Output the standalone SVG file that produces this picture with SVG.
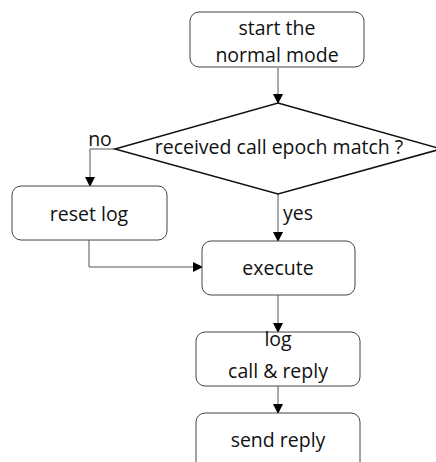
<svg xmlns="http://www.w3.org/2000/svg" width="436" height="462" viewBox="0 0 436 462">
<style>
.box{fill:#fff;stroke:#444;stroke-width:1}
.dia{fill:#fff;stroke:#111;stroke-width:1.5}
.t{font-family:"Open Sans","Liberation Sans",sans-serif;font-size:19.5px;fill:#111;text-anchor:middle}
.c{fill:none;stroke:#555;stroke-width:1}
</style>
<defs>
<marker id="ah" markerWidth="10" markerHeight="10" refX="9" refY="5" orient="auto" markerUnits="userSpaceOnUse">
<path d="M0,0 L10,5 L0,10 Z" fill="#000"/>
</marker>
</defs>
<rect width="436" height="462" fill="#fff"/>
<g id="connectors">
<path class="c" d="M278,68 V103" marker-end="url(#ah)"/>
<path class="c" d="M115,149 H90 V186" marker-end="url(#ah)"/>
<path class="c" d="M278,194 V241" marker-end="url(#ah)"/>
<path class="c" d="M89,240 V267 H202" marker-end="url(#ah)"/>
<path class="c" d="M278,295 V332" marker-end="url(#ah)"/>
<path class="c" d="M278,386 V413" marker-end="url(#ah)"/>
<text class="t" x="100" y="146">no</text>
<text class="t" x="283" y="220" style="text-anchor:start">yes</text>
</g>
<g id="start">
<rect class="box" x="190" y="12" width="174" height="55" rx="9"/>
<text class="t" x="277" y="35">start the</text>
<text class="t" x="277" y="62">normal mode</text>
</g>
<g id="decision">
<polygon class="dia" points="278,103 441,149 278,194 115,149"/>
<text class="t" x="279" y="154">received call epoch match ?</text>
</g>
<g id="reset">
<rect class="box" x="12" y="186" width="155" height="54" rx="9"/>
<text class="t" x="89" y="221">reset log</text>
</g>
<g id="execute">
<rect class="box" x="202" y="241" width="153" height="54" rx="9"/>
<text class="t" x="278" y="275">execute</text>
</g>
<g id="log">
<rect class="box" x="196" y="332" width="164" height="54" rx="9"/>
<text class="t" x="278" y="346">log</text>
<text class="t" x="278" y="378">call &amp; reply</text>
</g>
<g id="send">
<rect class="box" x="196" y="413" width="164" height="60" rx="9"/>
<text class="t" x="278" y="447">send reply</text>
</g>
</svg>
